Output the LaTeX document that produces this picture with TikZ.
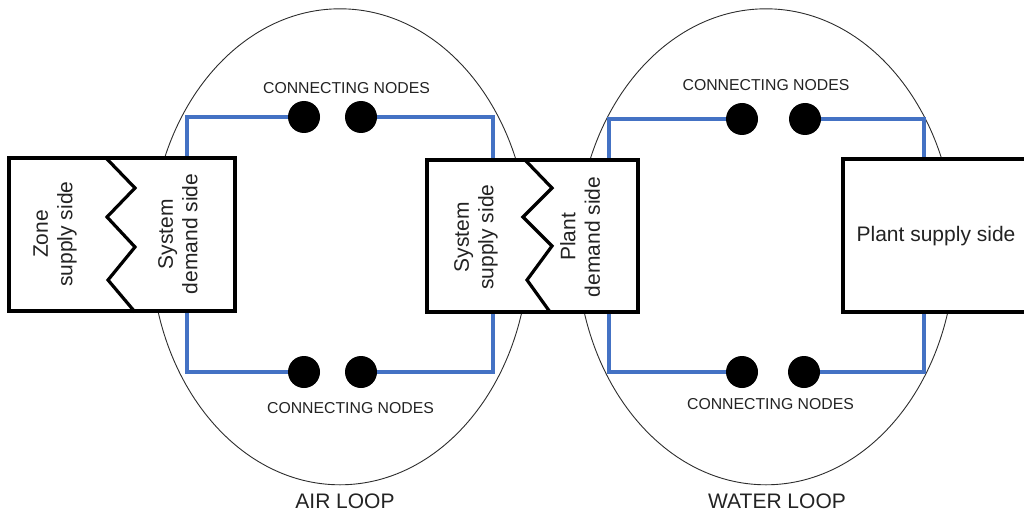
\documentclass[tikz,border=0pt]{standalone}
\usepackage{fontspec}
\setmainfont{Liberation Sans}
\definecolor{pipeblue}{RGB}{68,114,196}
\definecolor{loopgray}{RGB}{45,45,45}
\definecolor{txtgray}{RGB}{35,35,35}
\begin{document}
\begin{tikzpicture}[x=1pt,y=-1pt,
  pipe/.style={draw=pipeblue,line width=3.1pt},
  loopline/.style={draw=loopgray,line width=0.9pt},
  side/.style={draw=black,line width=3.4pt,fill=white,inner sep=0pt},
  zig/.style={draw=black,line width=3.2pt,line join=miter},
  cnode/.style={circle,fill=black,minimum size=32pt,inner sep=0pt},
  small/.style={font=\fontsize{15.8}{18}\selectfont,text=txtgray,inner sep=0pt},
  big/.style={font=\fontsize{21}{24.5}\selectfont,text=txtgray,align=center,inner sep=0pt},
]
\useasboundingbox (0,0) rectangle (1024,513);
\clip (0,0) rectangle (1024,513);

% loop outlines
\draw[loopline] (340,246.8) ellipse [x radius=189, y radius=238];
\draw[loopline] (766,246.8) ellipse [x radius=189, y radius=238];

% connecting nodes
\node[cnode] (at1) at (304,117) {};
\node[cnode] (at2) at (361,117) {};
\node[cnode] (ab1) at (304,372) {};
\node[cnode] (ab2) at (361,372) {};
\node[cnode] (wt1) at (742,119) {};
\node[cnode] (wt2) at (805,119) {};
\node[cnode] (wb1) at (742,372) {};
\node[cnode] (wb2) at (804,372) {};

% pipe ends on the side boxes
\coordinate (zt) at (187,158);
\coordinate (zb) at (187,311);
\coordinate (st) at (493,160);
\coordinate (sb) at (493,312);
\coordinate (pt) at (609,160);
\coordinate (pb) at (609,312);
\coordinate (qt) at (924,159);
\coordinate (qb) at (924,312);

% pipes
\draw[pipe] (at1) -| (zt);
\draw[pipe] (at2) -| (st);
\draw[pipe] (ab1) -| (zb);
\draw[pipe] (ab2) -| (sb);
\draw[pipe] (wt1) -| (pt);
\draw[pipe] (wt2) -| (qt);
\draw[pipe] (wb1) -| (pb);
\draw[pipe] (wb2) -| (qb);

% side boxes
\node[side,minimum width=226pt,minimum height=153pt] (zbox) at (122,234.5) {};
\node[side,minimum width=211pt,minimum height=152pt] (sbox) at (532.5,236) {};
\node[side,minimum width=197pt,minimum height=153pt] (pbox) at (941.5,235.5) {};

% split lines
\draw[zig] (106,158) -- (135,188) -- (107,217) -- (135,247) -- (108,280) -- (135,312);
\draw[zig] (525,160) -- (552,188) -- (523,217) -- (552,246) -- (527,280) -- (550,312);

% side labels
\node[big,rotate=90] (zs) at (55,234) {Zone\\supply side};
\node[big,rotate=90] (sd) at (178,234) {System\\demand side};
\node[big,rotate=90] (ss) at (476,237) {System\\supply side};
\node[big,rotate=90] (pd) at (580,237) {Plant\\demand side};
\node[big] (ps) at (936,236) {Plant supply side};

% node captions
\node[small,anchor=base] (ct1) at (346.5,94) {CONNECTING NODES};
\node[small,anchor=base] (cb1) at (350.5,413.5) {CONNECTING NODES};
\node[small,anchor=base] (ct2) at (766,90.5) {CONNECTING NODES};
\node[small,anchor=base] (cb2) at (770.5,409.5) {CONNECTING NODES};

% loop names
\node[big,anchor=base] (air) at (345,508) {AIR LOOP};
\node[big,anchor=base] (water) at (777,508) {WATER LOOP};
\end{tikzpicture}
\end{document}
